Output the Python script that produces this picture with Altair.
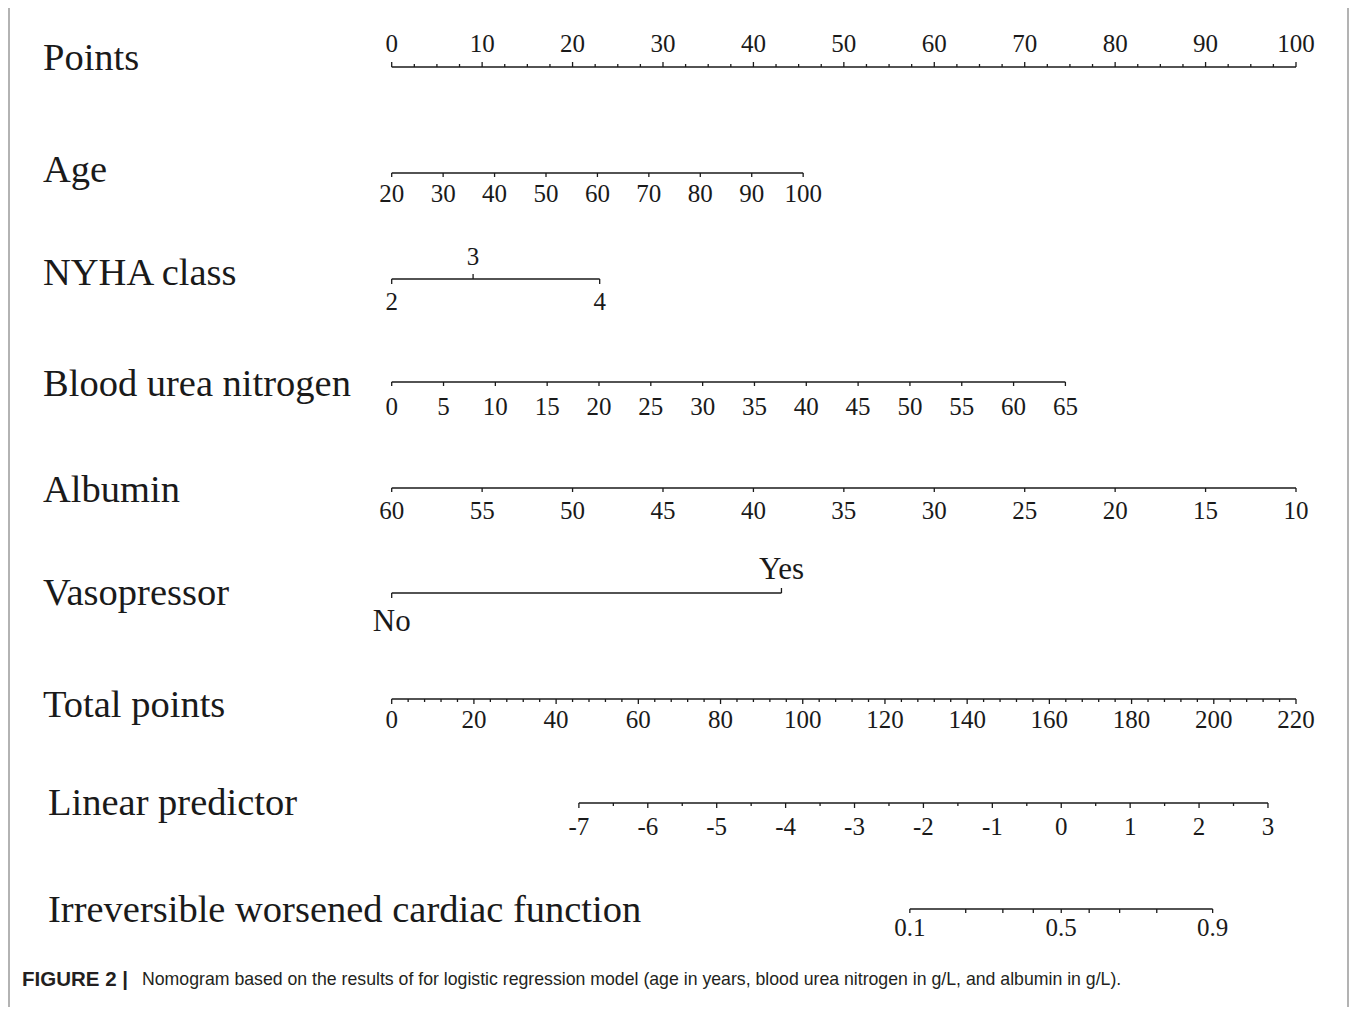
import math
import altair as alt
import pandas as pd

# ---------------- data ----------------
points_labels = [0, 10, 20, 30, 40, 50, 60, 70, 80, 90, 100]
points_minor = [2.5, 5, 7.5, 12.5, 15, 17.5, 22.5, 25, 27.5, 32.5, 35, 37.5, 42.5, 45, 47.5,
                52.5, 55, 57.5, 62.5, 65, 67.5, 72.5, 75, 77.5, 82.5, 85, 87.5, 92.5, 95, 97.5]
age_labels = [20, 30, 40, 50, 60, 70, 80, 90, 100]
nyha_labels = ["2", "3", "4"]
nyha_points = [0.0, 9.0, 23.0]
bun_labels = [0, 5, 10, 15, 20, 25, 30, 35, 40, 45, 50, 55, 60, 65]
albumin_labels = [60, 55, 50, 45, 40, 35, 30, 25, 20, 15, 10]
vaso_labels = ["No", "Yes"]
vaso_points = [0.0, 43.1]
total_labels = [0, 20, 40, 60, 80, 100, 120, 140, 160, 180, 200, 220]
total_minor = [4, 8, 12, 16]
lp_labels = [-7, -6, -5, -4, -3, -2, -1, 0, 1, 2, 3]
lp_minor = [-6.5, -5.5, -4.5, -3.5, -2.5, -1.5, -0.5, 0.5, 1.5, 2.5]
prob_labels = [0.1, 0.5, 0.9]
prob_ticks = [0.1, 0.2, 0.3, 0.4, 0.5, 0.6, 0.7, 0.8, 0.9]

# scale anchors (value -> points)
age_anchor = (20, 0.0, 100, 45.5)
bun_anchor = (0, 0.0, 65, 74.5)
alb_anchor = (60, 0.0, 10, 100.0)
total_anchor = (0, 0.0, 220, 100.0)
lp_anchor = (-7, 20.7, 3, 96.9)

row_names = ["Points", "Age", "NYHA class", "Blood urea nitrogen", "Albumin",
             "Vasopressor", "Total points", "Linear predictor",
             "Irreversible worsened cardiac function"]
caption_bold = "FIGURE 2 |"
caption_text = ("Nomogram based on the results of for logistic regression model "
                "(age in years, blood urea nitrogen in g/L, and albumin in g/L).")


def lin(anchor, v):
    v0, p0, v1, p1 = anchor
    return p0 + (v - v0) * (p1 - p0) / (v1 - v0)


def prob_pts(p):
    lp = math.log(p / (1 - p))
    return lin(lp_anchor, lp)


# ---------------- layout (plot pixels) ----------------
W, H = 1341, 999
base = {"Points": 59, "Age": 165, "NYHA class": 271, "Blood urea nitrogen": 374,
        "Albumin": 480, "Vasopressor": 585, "Total points": 691,
        "Linear predictor": 795, "Irreversible worsened cardiac function": 901}
name_y = {"Points": 50, "Age": 162, "NYHA class": 265, "Blood urea nitrogen": 376,
          "Albumin": 482, "Vasopressor": 585, "Total points": 697,
          "Linear predictor": 795, "Irreversible worsened cardiac function": 902}
indented = ["Linear predictor", "Irreversible worsened cardiac function"]
TICK_FS = 25
VASO_FS = 31
NAME_FS = 38.5

ticks, labels, lines = [], [], []


def add_tick(row, pts, length):
    ticks.append({"row": row, "pts": pts, "y": base[row], "y2": base[row] + length})


def add_label(row, pts, text, ly, size=TICK_FS):
    labels.append({"row": row, "pts": pts, "text": text, "y": ly, "size": size})


# Points
r = "Points"
for v in points_labels:
    add_tick(r, v, -5)
    add_label(r, v, str(v), 36)
for v in points_minor:
    add_tick(r, v, -3)
lines.append({"row": r, "x": 0, "x2": 100, "y": base[r]})

# Age
r = "Age"
for v in age_labels:
    p = lin(age_anchor, v)
    add_tick(r, p, 4)
    add_label(r, p, str(v), 186)
lines.append({"row": r, "x": lin(age_anchor, 20), "x2": lin(age_anchor, 100), "y": base[r]})

# NYHA
r = "NYHA class"
for t, p in zip(nyha_labels, nyha_points):
    if t == "3":
        add_tick(r, p, -5)
        add_label(r, p, t, 249)
    else:
        add_tick(r, p, 5)
        add_label(r, p, t, 294)
lines.append({"row": r, "x": min(nyha_points), "x2": max(nyha_points), "y": base[r]})

# BUN
r = "Blood urea nitrogen"
for v in bun_labels:
    p = lin(bun_anchor, v)
    add_tick(r, p, 4)
    add_label(r, p, str(v), 399)
lines.append({"row": r, "x": lin(bun_anchor, 0), "x2": lin(bun_anchor, 65), "y": base[r]})

# Albumin
r = "Albumin"
for v in albumin_labels:
    p = lin(alb_anchor, v)
    add_tick(r, p, 4)
    add_label(r, p, str(v), 503)
lines.append({"row": r, "x": 0, "x2": 100, "y": base[r]})

# Vasopressor
r = "Vasopressor"
for t, p in zip(vaso_labels, vaso_points):
    if t == "Yes":
        add_tick(r, p, -5)
        add_label(r, p, t, 562, VASO_FS)
    else:
        add_tick(r, p, 5)
        add_label(r, p, t, 614, VASO_FS)
lines.append({"row": r, "x": min(vaso_points), "x2": max(vaso_points), "y": base[r]})

# Total points
r = "Total points"
for v in total_labels:
    p = lin(total_anchor, v)
    add_tick(r, p, 5)
    add_label(r, p, str(v), 712)
for v0 in total_labels[:-1]:
    for m in total_minor:
        add_tick(r, lin(total_anchor, v0 + m), 3)
lines.append({"row": r, "x": 0, "x2": 100, "y": base[r]})

# Linear predictor
r = "Linear predictor"
for v in lp_labels:
    p = lin(lp_anchor, v)
    add_tick(r, p, 5)
    add_label(r, p, str(v), 819)
for v in lp_minor:
    add_tick(r, lin(lp_anchor, v), 3)
lines.append({"row": r, "x": lin(lp_anchor, -7), "x2": lin(lp_anchor, 3), "y": base[r]})

# Probability
r = "Irreversible worsened cardiac function"
for v in prob_ticks:
    add_tick(r, prob_pts(v), 4)
for v in prob_labels:
    add_label(r, prob_pts(v), str(v), 920)
lines.append({"row": r, "x": prob_pts(0.1), "x2": prob_pts(0.9), "y": base[r]})

names = pd.DataFrame({"name": row_names, "y": [name_y[n] for n in row_names],
                      "indent": [n in indented for n in row_names]})

xs = alt.Scale(domain=[0, 100], range=[383.7, 1288.0])
ys = alt.Scale(domain=[0, H], range=[0, H])
INK = "#1a1a1a"
SERIF = "Liberation Serif"

line_layer = alt.Chart(pd.DataFrame(lines)).mark_rule(color=INK, strokeWidth=1.5).encode(
    x=alt.X("x:Q", scale=xs, axis=None), x2="x2:Q",
    y=alt.Y("y:Q", scale=ys, axis=None))

tick_layer = alt.Chart(pd.DataFrame(ticks)).mark_rule(color=INK, strokeWidth=1.3).encode(
    x=alt.X("pts:Q", scale=xs, axis=None),
    y=alt.Y("y:Q", scale=ys, axis=None), y2="y2:Q")

lab_layer = alt.Chart(pd.DataFrame(labels)).mark_text(
    font=SERIF, color=INK, baseline="middle", align="center").encode(
    x=alt.X("pts:Q", scale=xs, axis=None),
    y=alt.Y("y:Q", scale=ys, axis=None),
    text="text:N",
    size=alt.Size("size:Q", scale=None, legend=None))

name_a = alt.Chart(names[~names.indent]).mark_text(
    font=SERIF, color=INK, baseline="middle", align="left", fontSize=NAME_FS).encode(
    x=alt.value(35), y=alt.Y("y:Q", scale=ys, axis=None), text="name:N")
name_b = alt.Chart(names[names.indent]).mark_text(
    font=SERIF, color=INK, baseline="middle", align="left", fontSize=NAME_FS).encode(
    x=alt.value(40), y=alt.Y("y:Q", scale=ys, axis=None), text="name:N")

cap_b = alt.Chart(pd.DataFrame({"t": [caption_bold]})).mark_text(
    font="Liberation Sans", fontWeight="bold", fontSize=20.5,
    color="#231f20", align="left", baseline="middle").encode(
    x=alt.value(14), y=alt.value(972), text="t:N")
cap_n = alt.Chart(pd.DataFrame({"t": [caption_text]})).mark_text(
    font="Liberation Sans", fontSize=17.7,
    color="#231f20", align="left", baseline="middle").encode(
    x=alt.value(134), y=alt.value(972), text="t:N")

frame = alt.Chart(pd.DataFrame({"a": [0]})).mark_rect(
    fill=None, stroke="#9a9a9a", strokeWidth=1.5).encode(
    x=alt.value(1), x2=alt.value(W - 1), y=alt.value(-10), y2=alt.value(H + 20))

chart = alt.layer(frame, line_layer, tick_layer, lab_layer, name_a, name_b, cap_b, cap_n
                  ).properties(
    width=W, height=H, padding=0, autosize=alt.AutoSizeParams(type="none"),
    background="white"
).configure_view(stroke=None)

chart.save("out.html", embed_options={"renderer": "svg", "actions": False})
